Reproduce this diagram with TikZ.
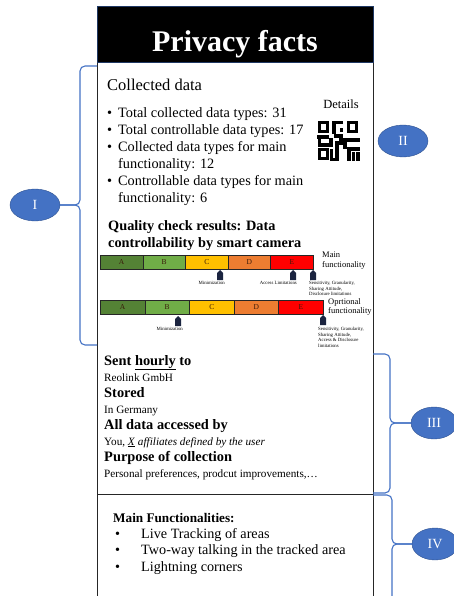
\documentclass[tikz,border=0pt]{standalone}
\usepackage{fontspec}
\setmainfont{Liberation Serif}
\usetikzlibrary{shapes.geometric}
\definecolor{ovalfill}{HTML}{4472C4}
\definecolor{ovalline}{HTML}{2F528F}
\definecolor{framenavy}{HTML}{1F3864}
\definecolor{gradeA}{HTML}{548235}
\definecolor{gradeB}{HTML}{70AD47}
\definecolor{gradeC}{HTML}{FFC000}
\definecolor{gradeD}{HTML}{ED7D31}
\definecolor{gradeE}{HTML}{FF0000}
\definecolor{pinnavy}{HTML}{1B2440}
\definecolor{gradetext}{HTML}{3A1A0A}
\begin{document}
\begin{tikzpicture}[x=1pt,y=-1pt,
    oval/.style ={ellipse, draw=ovalline, fill=ovalfill, text=white, inner sep=0pt,
                  minimum width=50pt, minimum height=32pt, font=\fontsize{14}{16}\selectfont},
    bracket/.style ={draw=ovalfill, line width=1.1pt, rounded corners=5pt},
    frame/.style ={draw=black!85, line width=0.9pt},
    grade/.style ={draw=black!85, line width=0.6pt, anchor=north west, minimum height=14pt,
                   inner sep=0pt, text=gradetext, font=\fontsize{7.5}{8}\selectfont},
    note/.style ={anchor=north west, align=left, inner sep=0pt, font=\fontsize{4.8}{5.6}\selectfont},
    rowtext/.style ={anchor=base west, inner sep=0pt},
    qr/.style ={line width=3.2pt, line cap=rect},
    marker/.pic ={\fill[pinnavy] (0,0) -- (3,3) -- (3,10) -- (-3,10) -- (-3,3) -- cycle;}]
  \useasboundingbox (0,0) rectangle (453,596);

  % title and frame
  \node[fill=black, draw=framenavy, line width=1pt, minimum width=276pt, minimum height=56pt, inner sep=0pt] (titlebar) at (235,35) {};
  \node[anchor=base, text=white, inner sep=0pt, font=\fontsize{30}{34}\selectfont\bfseries] (title) at (235,52) {Privacy facts};
  \draw[frame] (97,63) -- (97,600) (373,63) -- (373,600) (97,494) -- (373,494);

  % collected data
  \node[rowtext, font=\fontsize{16.5}{19}\selectfont] (collected) at (107,91) {Collected data};
  \node[anchor=north west, align=left, inner sep=0pt, font=\fontsize{14.3}{17}\selectfont] (counts) at (107,107)
    {\textbullet\hspace{6pt}Total collected data types: 31\\
     \textbullet\hspace{6pt}Total controllable data types: 17\\
     \textbullet\hspace{6pt}Collected data types for main\\
     \phantom{\textbullet}\hspace{6pt}functionality: 12\\
     \textbullet\hspace{6pt}Controllable data types for main\\
     \phantom{\textbullet}\hspace{6pt}functionality: 6};
  \node[anchor=base, inner sep=0pt, font=\fontsize{12.5}{14}\selectfont] (details) at (341,109) {Details};

  % qr icon
  \draw[qr] (319.8,122.3) rectangle (327.8,131.7);
  \draw[qr] (348.2,122.3) rectangle (356.8,131.7);
  \draw[qr] (319.8,149.3) rectangle (327.8,158.7);
  \draw[qr] (334,132) -- (334,122.3) -- (341.5,122.3);
  \fill (339.5,128.5) rectangle (343,132);
  \draw[qr] (319,137) -- (327,137);
  \draw[qr] (319.8,141) -- (319.8,145) -- (331,145) -- (331,140);
  \draw[qr] (336,136) -- (341,136) -- (341,143) -- (337,143) -- (337,159.5);
  \draw[qr] (345,140) -- (358,140);
  \draw[qr] (345,140) -- (345,147);
  \draw[qr] (331.5,151) -- (331.5,159.5) -- (334,159.5);
  \draw[qr] (349,149) -- (358,149);
  \draw[qr] (349,149) -- (349,159.5);
  \draw[qr] (353.5,154) -- (353.5,159.5);
  \draw[qr] (358,154) -- (358,159.5);

  % quality check
  \node[anchor=north west, align=left, inner sep=0pt, font=\fontsize{14.3}{17}\selectfont\bfseries] (quality) at (108,220)
    {Quality check results: Data\\controllability by smart camera};
  \foreach \g/\c [count=\i from 0] in {A/gradeA, B/gradeB, C/gradeC, D/gradeD, E/gradeE}{
    \node[grade, fill=\c, minimum width=42.6pt] (m\g) at (100+42.6*\i,255) {\g};
    \node[grade, fill=\c, minimum width=44.6pt] (o\g) at (100+44.6*\i,300) {\g};
  }
  \node[anchor=north west, align=left, inner sep=0pt, font=\fontsize{8.5}{9.5}\selectfont] (mainfn) at (322,252) {Main\\functionality};
  \node[anchor=north west, align=left, inner sep=0pt, font=\fontsize{8.5}{9.5}\selectfont] (optfn) at (328,298) {Oprtional\\functionality};

  \pic at (220,270) {marker};
  \pic at (293,270) {marker};
  \pic at (313,270) {marker};
  \pic at (178,316) {marker};
  \pic at (323,315) {marker};
  \node[note, anchor=north east] (mmin) at (225,281) {Minimization};
  \node[note, anchor=north east] (macc) at (297,281) {Access Limitations};
  \node[note] (msens) at (309,281) {Sensitivity, Granularity,\\Sharing Attitude,\\Disclosure limitations};
  \node[note, anchor=north east] (omin) at (183,327) {Minimization};
  \node[note] (osens) at (318,327) {Sensitivity, Granularity,\\Sharing Attitude,\\Access \& Disclosure\\limitations};

  % sharing
  \node[rowtext, font=\fontsize{14.4}{16}\selectfont\bfseries] (sent) at (104,365) {Sent \underline{hourly} to};
  \node[rowtext, font=\fontsize{11.2}{13}\selectfont] (reolink) at (104,381) {Reolink GmbH};
  \node[rowtext, font=\fontsize{14.4}{16}\selectfont\bfseries] (stored) at (104,397) {Stored};
  \node[rowtext, font=\fontsize{11.2}{13}\selectfont] (germany) at (104,413) {In Germany};
  \node[rowtext, font=\fontsize{14.4}{16}\selectfont\bfseries] (access) at (104,429) {All data accessed by};
  \node[rowtext, font=\fontsize{11.2}{13}\selectfont] (you) at (104,445) {You, \underline{\textit{X}}\textit{ affiliates defined by the user}};
  \node[rowtext, font=\fontsize{14.4}{16}\selectfont\bfseries] (purpose) at (104,461) {Purpose of collection};
  \node[rowtext, font=\fontsize{11.2}{13}\selectfont] (prefs) at (104,477) {Personal preferences, prodcut improvements,\ldots};

  % main functionalities
  \node[rowtext, font=\fontsize{13.2}{16}\selectfont\bfseries] (mainfun) at (113,522) {Main Functionalities:};
  \foreach \t/\yy [count=\i] in {Live Tracking of areas/538, Two-way talking in the tracked area/554, Lightning corners/571}{
    \node[rowtext, font=\fontsize{14.2}{16}\selectfont] (bul\i) at (115,\yy) {\textbullet};
    \node[rowtext, font=\fontsize{14.2}{16}\selectfont] (fun\i) at (141,\yy) {\t};
  }

  % labels and braces
  \node[oval] (I) at (35,205) {I};
  \node[oval] (II) at (403,141) {II};
  \node[oval, minimum width=46pt] (III) at (434,423) {III};
  \node[oval, minimum width=46pt] (IV) at (435,544) {IV};
  \draw[bracket] (97,66) -- (80,66) -- (80,205) -- (I.east);
  \draw[bracket] (97,345) -- (80,345) -- (80,205) -- (I.east);
  \draw[bracket] (373,354) -- (390,354) -- (390,423) -- (III.west);
  \draw[bracket] (373,493) -- (390,493) -- (390,423) -- (III.west);
  \draw[bracket] (373,495) -- (392,495) -- (392,544) -- (IV.west);
  \draw[bracket] (392,600) -- (392,544) -- (IV.west);
\end{tikzpicture}
\end{document}
